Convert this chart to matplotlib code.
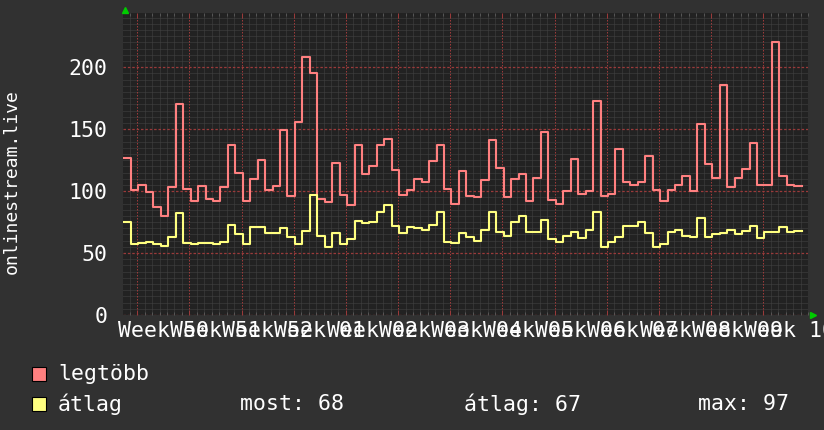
import numpy as np
import matplotlib.pyplot as plt
import matplotlib.transforms as mtransforms
from matplotlib.patches import Rectangle

# napi értékek, napról napra (91 nap)
legtobb = [127, 101, 105, 99, 87, 80, 103, 170, 102, 92,
           104, 94, 92, 103, 137, 115, 92, 110, 125, 101,
           104, 149, 96, 156, 208, 195, 94, 91, 123, 97,
           89, 137, 114, 120, 137, 142, 117, 97, 101, 110,
           107, 124, 137, 102, 90, 116, 96, 95, 109, 141,
           119, 95, 110, 114, 92, 111, 148, 93, 90, 100,
           126, 98, 100, 173, 96, 98, 134, 107, 105, 107,
           128, 101, 92, 101, 105, 112, 100, 154, 122, 111,
           186, 103, 111, 118, 139, 105, 105, 220, 112, 105,
           104]
atlag = [75, 57, 58, 59, 57, 56, 63, 82, 58, 57,
         58, 58, 57, 59, 73, 65, 57, 71, 71, 66,
         66, 70, 63, 57, 68, 97, 64, 55, 66, 57,
         61, 76, 74, 75, 83, 89, 72, 66, 71, 70,
         69, 73, 83, 59, 58, 66, 63, 60, 69, 83,
         67, 64, 75, 80, 67, 67, 77, 61, 59, 64,
         67, 62, 69, 83, 55, 59, 63, 72, 72, 75,
         66, 55, 57, 67, 69, 64, 63, 78, 63, 65,
         66, 69, 65, 68, 72, 62, 67, 67, 71, 67,
         68]
week_labels = ['Week 50', 'Week 51', 'Week 52', 'Week 01', 'Week 02',
               'Week 03', 'Week 04', 'Week 05', 'Week 06', 'Week 07',
               'Week 08', 'Week 09', 'Week 10']
y_ticks = [0, 50, 100, 150, 200]
legend_names = ['legtöbb', 'átlag']
stats = ['most: 68', 'átlag: 67', 'max: 97']

BACK = '#313131'
CANVAS = '#222222'
RED = '#ff8080'
YELLOW = '#ffff80'
MINOR = '#444444'
MAJOR = '#9a3a3a'

plt.rcParams['font.family'] = 'DejaVu Sans Mono'

fig = plt.figure(figsize=(8.24, 4.30), dpi=100, facecolor=BACK)
ax = fig.add_axes([123 / 824, 1 - 315 / 430, 685 / 824, 302 / 430])
ax.set_facecolor(CANVAS)

# első hét kezdete a napok skáláján
week0 = 1.84
ndays = len(legtobb)
ax.set_xlim(-0.07, 91.27)
ax.set_ylim(0, 243.8)

major_x = week0 + 7 * np.arange(len(week_labels))
minor_x = week0 + np.arange(-1, ndays)
ax.set_xticks(major_x)
ax.set_xticks(minor_x, minor=True)
ax.set_yticks(y_ticks)
ax.set_yticks(np.arange(0, 245, 5), minor=True)

# apró pontozott rács, fölötte a piros fő rács
ax.grid(which='minor', color=MINOR, linestyle=(0, (1, 1)), linewidth=0.72)
ax.set_axisbelow(True)
for xv in major_x:
    ax.axvline(xv, color=MAJOR, linestyle=(0, (1.5, 1.5)), linewidth=0.72, zorder=1)
for yv in y_ticks:
    ax.axhline(yv, color=MAJOR, linestyle=(0, (2, 1.5)), linewidth=0.9, zorder=1)

ax.tick_params(axis='x', which='minor', direction='in', top=True, bottom=True,
               length=2.5, width=0.72, color='#555555')
ax.tick_params(axis='x', which='major', direction='in', top=True, bottom=True,
               length=3.5, width=0.72, color=MAJOR)
ax.tick_params(axis='x', which='both', labelbottom=False)
ax.tick_params(axis='y', which='both', length=0, pad=11, labelsize=15.5,
               labelcolor='white')
for s in ax.spines.values():
    s.set_visible(False)

days = np.arange(ndays + 1)
ax.step(days, legtobb + legtobb[-1:], where='post', color=RED, linewidth=1.5,
        zorder=3)
ax.step(days, atlag + atlag[-1:], where='post', color=YELLOW, linewidth=1.5,
        zorder=3)

# hét feliratok a hetek közepén
trans = mtransforms.blended_transform_factory(ax.transData, fig.transFigure)
for i, lab in enumerate(week_labels):
    ax.text(major_x[i] + 3.5, 1 - 331 / 430, lab, transform=trans, ha='center',
            va='center', color='white', fontsize=15.5, clip_on=False)

# tengely nyilak
ax.plot(0.003, 1.01, marker='^', ms=4.5, color='#00cc00', transform=ax.transAxes,
        clip_on=False)
ax.plot(1.007, 0.0, marker='>', ms=4.5, color='#00cc00', transform=ax.transAxes,
        clip_on=False)

fig.text(12 / 824, 1 - 182 / 430, 'onlinestream.live', rotation=90, ha='center',
         va='center', color='white', fontsize=13)

# jelmagyarázat
rows = [1 - 374 / 430, 1 - 404 / 430]
for y, name, col in zip(rows, legend_names, [RED, YELLOW]):
    fig.patches.append(Rectangle((32 / 824, y - 7 / 430), 14 / 824, 14 / 430,
                                 transform=fig.transFigure, facecolor=col,
                                 edgecolor='black', linewidth=0.8))
    fig.text(58 / 824, y, name, ha='left', va='center', color='white',
             fontsize=15.5)
for x, s in zip([240, 464, 698], stats):
    fig.text(x / 824, rows[1], s, ha='left', va='center', color='white',
             fontsize=15.5)

fig.savefig('out.png', dpi=100, facecolor=BACK)
